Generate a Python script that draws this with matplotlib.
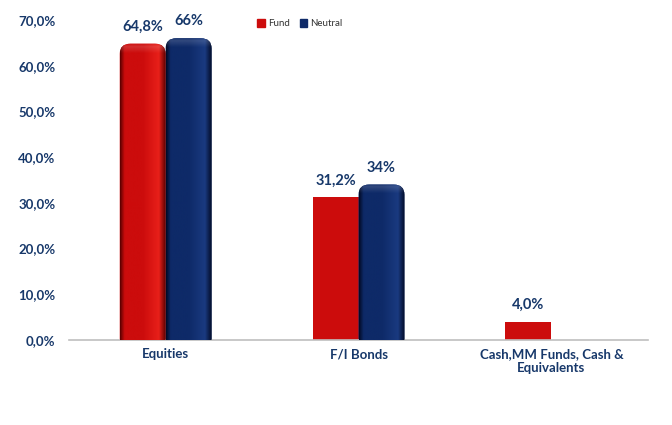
import matplotlib.pyplot as plt
import numpy as np
from matplotlib.patches import FancyBboxPatch, Patch
from matplotlib.colors import LinearSegmentedColormap

categories = ['Equities', 'F/I Bonds', 'Cash,MM Funds, Cash &\nEquivalents']
fund = [64.8, 31.2, 4.0]
neutral = [66.0, 34.0, np.nan]
fund_labels = ['64,8%', '31,2%', '4,0%']
neutral_labels = ['66%', '34%', '']
rounded_fund = [True, False, False]
rounded_neutral = [True, True, False]

red = '#CC0C0C'
navy = '#0E2A68'
txt = '#17386A'

plt.rcParams['font.family'] = ['Lato', 'DejaVu Sans']

fig = plt.figure(figsize=(6.72, 4.25), dpi=100)
ax = fig.add_axes([0.103, 0.2, 0.861, 0.753])

x = np.arange(len(categories))
w = 0.238


def shade(ax, bar, base, dark, light):
    # swap a flat bar for a rounded, shaded one
    bx, by = bar.get_x(), bar.get_y()
    bw, bh = bar.get_width(), bar.get_height()
    bar.set_visible(False)
    r = 0.055
    asp = 40
    patch = FancyBboxPatch((bx + r, by - 5), bw - 2 * r, bh + 5 - r * asp,
                           boxstyle='round,pad=%f' % r, mutation_aspect=asp,
                           facecolor=base, edgecolor='none', zorder=2)
    ax.add_patch(patch)
    cmap = LinearSegmentedColormap.from_list(
        'g', [(0, dark), (0.1, base), (0.5, base), (0.85, light), (1, dark)])
    grad = np.linspace(0, 1, 200).reshape(1, -1)
    im = ax.imshow(grad, cmap=cmap, extent=(bx, bx + bw, by - 5, by + bh),
                   aspect='auto', zorder=3)
    im.set_clip_path(patch)
    # light gloss at the top
    vg = np.linspace(0, 1, 50).reshape(-1, 1)
    cm2 = LinearSegmentedColormap.from_list(
        'v', [(0, (1, 1, 1, 0)), (0.6, (1, 1, 1, 0)), (0.9, (1, 1, 1, 0.15)), (1, (1, 1, 1, 0.05))])
    im2 = ax.imshow(vg, cmap=cm2, extent=(bx, bx + bw, by + bh - 5, by + bh),
                    aspect='auto', origin='lower', zorder=4)
    im2.set_clip_path(patch)


b1 = ax.bar(x - w / 2, fund, w, color=red, zorder=2)
b2 = ax.bar(x + w / 2, neutral, w, color=navy, zorder=2)

for bar, rnd in zip(b1, rounded_fund):
    if rnd:
        shade(ax, bar, red, '#5A0000', '#E8201A')
for bar, rnd in zip(b2, rounded_neutral):
    if rnd:
        shade(ax, bar, navy, '#020B26', '#1A3A80')

for i in range(len(categories)):
    ax.text(x[i] - w / 2, fund[i] + 2.2, fund_labels[i], ha='center', va='bottom',
            fontsize=10.5, fontweight='bold', color=txt)
    if not np.isnan(neutral[i]):
        ax.text(x[i] + w / 2, neutral[i] + 2.2, neutral_labels[i], ha='center', va='bottom',
                fontsize=10.5, fontweight='bold', color=txt)

ax.set_xlim(-0.5, 2.5)
ax.set_ylim(0, 70)
ax.set_yticks(np.arange(0, 71, 10))
ax.set_yticklabels(['%d,0%%' % v for v in range(0, 71, 10)])
ax.set_xticks(x)
ax.set_xticklabels(categories)
ax.tick_params(length=0, colors=txt, labelsize=9.5, pad=10)
ax.tick_params(axis='x', pad=6)
for lb in ax.get_xticklabels() + ax.get_yticklabels():
    lb.set_fontweight('bold')
for s in ['top', 'right', 'left']:
    ax.spines[s].set_visible(False)
ax.spines['bottom'].set_color('#BFBFBF')
ax.spines['bottom'].set_linewidth(1.2)

handles = [Patch(color=red, label='Fund'), Patch(color=navy, label='Neutral')]
fig.legend(handles=handles, loc='upper left', bbox_to_anchor=(0.37, 0.975), ncol=2,
           frameon=False, fontsize=7, handlelength=0.8, handleheight=0.8,
           handletextpad=0.3, columnspacing=1.0, labelcolor='#333333')

fig.savefig('out.png', dpi=100)
